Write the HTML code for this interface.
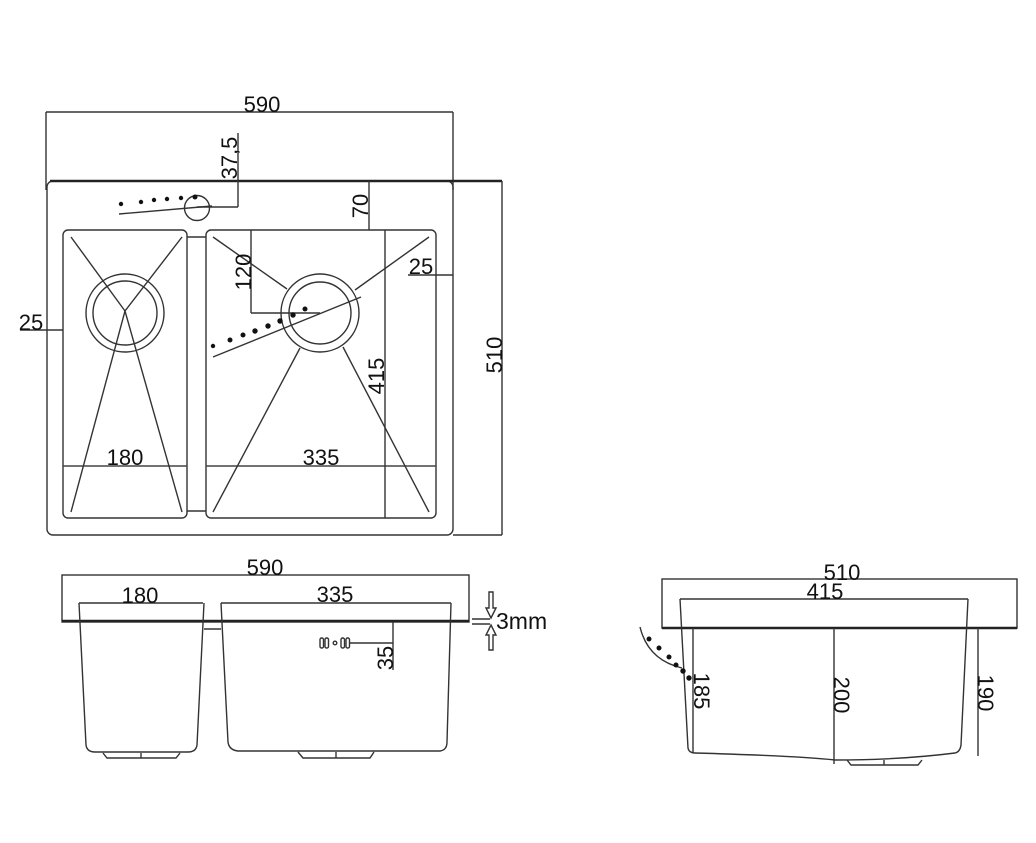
<!DOCTYPE html>
<html><head><meta charset="utf-8"><style>
html,body{margin:0;padding:0;background:#fff;}
svg{display:block;}
text{font-family:"Liberation Sans",sans-serif;fill:#111;}
</style></head><body>
<svg width="1036" height="843" viewBox="0 0 1036 843" xmlns="http://www.w3.org/2000/svg">
<g fill="none" stroke="#333" stroke-width="1.4">
<line x1="46" y1="112" x2="453" y2="112"/>
<line x1="46" y1="112" x2="46" y2="190"/>
<line x1="453" y1="112" x2="453" y2="190"/>
<rect x="47" y="181" width="406" height="354" rx="6"/>
<line x1="50" y1="181" x2="502" y2="181" stroke-width="2.4" stroke="#222"/>
<line x1="502" y1="181" x2="502" y2="535"/>
<line x1="453" y1="535" x2="502" y2="535"/>
<line x1="238" y1="133" x2="238" y2="207"/>
<line x1="197" y1="207" x2="238" y2="207"/>
<circle cx="197" cy="208" r="12.5"/>
<line x1="119" y1="214" x2="212" y2="206"/>
<line x1="369" y1="181" x2="369" y2="230"/>
<rect x="63" y="230" width="124" height="288" rx="5"/>
<rect x="206" y="230" width="230" height="288" rx="5"/>
<line x1="187" y1="237" x2="206" y2="237"/>
<line x1="187" y1="511" x2="206" y2="511"/>
<line x1="63" y1="466" x2="187" y2="466" stroke="#444"/>
<line x1="206" y1="466" x2="436" y2="466" stroke="#444"/>
<line x1="385" y1="230" x2="385" y2="518"/>
<line x1="251" y1="230" x2="251" y2="313"/>
<line x1="251" y1="313" x2="320" y2="313"/>
<line x1="408" y1="275" x2="453" y2="275"/>
<line x1="20" y1="330" x2="63" y2="330"/>
<circle cx="125" cy="313" r="39"/>
<circle cx="125" cy="313" r="32"/>
<circle cx="320" cy="313" r="39"/>
<circle cx="320" cy="313" r="31"/>
<polyline points="71,237 125,311 182,512"/>
<polyline points="182,237 125,311 71,512"/>
<line x1="213" y1="237" x2="287" y2="289"/>
<line x1="429" y1="237" x2="355" y2="290"/>
<line x1="300" y1="348" x2="213" y2="512"/>
<line x1="343" y1="347" x2="429" y2="512"/>
<line x1="213" y1="357" x2="361" y2="297"/>
<rect x="62" y="575" width="407" height="47"/>
<line x1="62" y1="621" x2="469" y2="621" stroke-width="2.4" stroke="#222"/>
<line x1="79" y1="603" x2="203" y2="603"/>
<line x1="221" y1="603" x2="451" y2="603"/>
<path d="M79,603 L86,745 Q87,752 95,752 L188,752 Q196,752 197,745 L204,603"/>
<path d="M221,603 L228,742 Q229,750 238,751 L440,751 Q447,750 447,742 L451,603"/>
<line x1="204" y1="629" x2="221" y2="629"/>
<path d="M103,753 L107,758 L176,758 L180,753"/>
<line x1="141" y1="753" x2="141" y2="758"/>
<path d="M298,752 L303,758 L370,758 L374,752"/>
<line x1="336" y1="752" x2="336" y2="758"/>
<line x1="393" y1="622" x2="393" y2="670"/>
<line x1="350" y1="643" x2="393" y2="643"/>
<rect x="320" y="638" width="3.5" height="10" rx="1.5"/>
<rect x="325" y="638" width="3.5" height="10" rx="1.5"/>
<circle cx="335" cy="643" r="1.8"/>
<rect x="341" y="638" width="3.5" height="10" rx="1.5"/>
<rect x="346" y="638" width="3.5" height="10" rx="1.5"/>
<line x1="472" y1="619" x2="490" y2="619"/>
<line x1="472" y1="624" x2="490" y2="624"/>
<path d="M489,592 L493,592 L493,608 L496,608 L491,618 L486,608 L489,608 Z"/>
<path d="M489,650 L493,650 L493,635 L496,635 L491,625 L486,635 L489,635 Z"/>
<rect x="662" y="579" width="355" height="49"/>
<line x1="662" y1="628" x2="1017" y2="628" stroke-width="2.4" stroke="#222"/>
<line x1="680" y1="599" x2="968" y2="599"/>
<path d="M680,599 L688,748 Q689,753 695,753 Q800,756 835,760 Q900,760 955,753 Q960,752 961,745 L968,599"/>
<line x1="693" y1="628" x2="693" y2="753"/>
<line x1="834" y1="628" x2="834" y2="764"/>
<line x1="978" y1="628" x2="978" y2="756"/>
<path d="M847,760 L851,765 L918,765 L922,760"/>
<line x1="884" y1="760" x2="884" y2="765"/>
<path d="M640,627 Q648,660 682,668"/>
</g>
<g fill="#111">
<circle cx="121" cy="204" r="2.2"/><circle cx="141" cy="202" r="2.2"/><circle cx="154" cy="200" r="2.2"/><circle cx="167" cy="199" r="2.2"/><circle cx="181" cy="198" r="2.2"/><circle cx="195" cy="197" r="2.5"/>
<circle cx="213" cy="346" r="2.2"/><circle cx="230" cy="340" r="2.5"/><circle cx="243" cy="335" r="2.5"/><circle cx="255" cy="331" r="2.7"/><circle cx="268" cy="326" r="2.7"/><circle cx="280" cy="321" r="2.7"/><circle cx="293" cy="315" r="2.7"/><circle cx="305" cy="309" r="2.5"/>
<circle cx="649" cy="639" r="2.5"/><circle cx="659" cy="648" r="2.5"/><circle cx="669" cy="657" r="2.5"/><circle cx="676" cy="665" r="2.5"/><circle cx="683" cy="671" r="2.7"/><circle cx="689" cy="678" r="2.7"/>
</g>
<g font-size="22">
<text x="262" y="112" text-anchor="middle">590</text>
<text x="125" y="465" text-anchor="middle">180</text>
<text x="321" y="465" text-anchor="middle">335</text>
<text x="421" y="274" text-anchor="middle">25</text>
<text x="31" y="330" text-anchor="middle">25</text>
<text transform="translate(237,158) rotate(-90)" text-anchor="middle">37,5</text>
<text transform="translate(368,206) rotate(-90)" text-anchor="middle">70</text>
<text transform="translate(251,272) rotate(-90)" text-anchor="middle">120</text>
<text transform="translate(384,376) rotate(-90)" text-anchor="middle">415</text>
<text transform="translate(502,355) rotate(-90)" text-anchor="middle">510</text>
<text x="265" y="575" text-anchor="middle">590</text>
<text x="140" y="603" text-anchor="middle">180</text>
<text x="335" y="602" text-anchor="middle">335</text>
<text transform="translate(393,658) rotate(-90)" text-anchor="middle">35</text>
<text x="496" y="629" font-size="23">3mm</text>
<text x="842" y="580" text-anchor="middle">510</text>
<text x="825" y="599" text-anchor="middle">415</text>
<text transform="translate(694,691) rotate(90)" text-anchor="middle">185</text>
<text transform="translate(834,695) rotate(90)" text-anchor="middle">200</text>
<text transform="translate(978,693) rotate(90)" text-anchor="middle">190</text>
</g>
</svg>
</body></html>
